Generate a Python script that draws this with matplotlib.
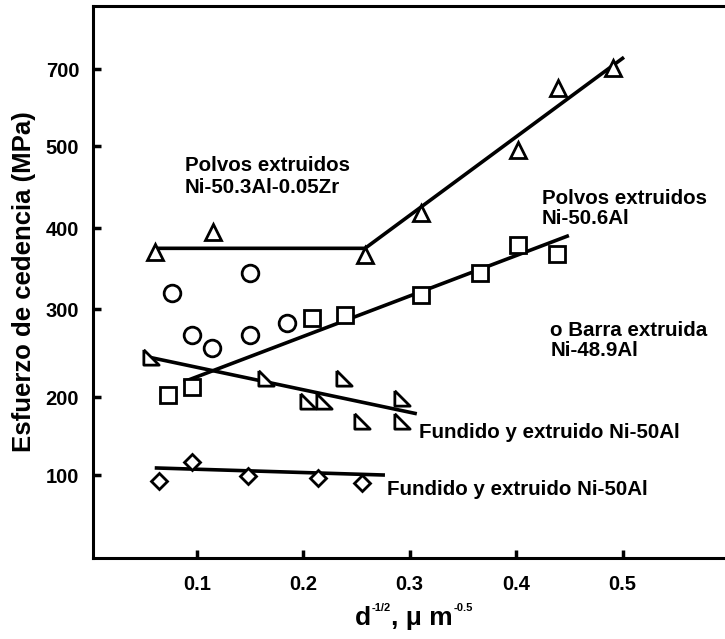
import numpy as np
import matplotlib
matplotlib.use("Agg")
import matplotlib.pyplot as plt

plt.rcParams["font.family"] = ["Liberation Sans", "DejaVu Sans"]
plt.rcParams["font.weight"] = "bold"

# --- datos (x = d^-1/2, y = MPa) ---
zr_x = [0.061, 0.115, 0.258, 0.311, 0.402, 0.439, 0.491]
zr_y = [370, 395, 367, 418, 495, 651, 702]
zr_line_x = [0.061, 0.258, 0.50]
zr_line_y = [375, 375, 728]

sq_x = [0.073, 0.095, 0.208, 0.239, 0.311, 0.366, 0.402, 0.438]
sq_y = [202, 211, 290, 293, 317, 344, 379, 368]
sq_line_x = [0.089, 0.448]
sq_line_y = [218, 390]

circ_x = [0.077, 0.095, 0.114, 0.150, 0.150, 0.185]
circ_y = [320, 270, 256, 344, 270, 284]

cast_x = [0.057, 0.165, 0.204, 0.219, 0.238, 0.255, 0.293, 0.293]
cast_y = [245, 222, 195, 195, 222, 169, 199, 169]
cast_line_x = [0.056, 0.305]
cast_line_y = [245, 179]

dia_x = [0.064, 0.095, 0.148, 0.214, 0.255]
dia_y = [93, 117, 99, 96, 90]
dia_line_x = [0.062, 0.275]
dia_line_y = [109, 100]

xticks = [0.1, 0.2, 0.3, 0.4, 0.5]
xticklabels = ["0.1", "0.2", "0.3", "0.4", "0.5"]
yticks = [100, 200, 300, 400, 500, 700]

# escala del eje y de la figura original (no es lineal entre etiquetas)
scale_mpa = [0, 100, 200, 300, 400, 500, 700, 1000]
scale_pos = [0, 83, 161, 249, 330, 412, 489, 604.5]


def fwd(v):
    return np.interp(v, scale_mpa, scale_pos)


def inv(p):
    return np.interp(p, scale_pos, scale_mpa)


fig = plt.figure(figsize=(7.25, 6.39), dpi=100)
ax = fig.add_axes([0.1283, 0.1268, 0.8689, 0.8638])
ax.set_yscale("function", functions=(fwd, inv))

lw = 2.6
ax.plot(zr_line_x, zr_line_y, color="black", lw=lw, zorder=2)
ax.plot(sq_line_x, sq_line_y, color="black", lw=lw, zorder=2)
ax.plot(cast_line_x, cast_line_y, color="black", lw=lw, zorder=2)
ax.plot(dia_line_x, dia_line_y, color="black", lw=lw, zorder=2)

mk = dict(color="black", mfc="white", mec="black", mew=2.0, ls="none", zorder=3)
ax.plot(zr_x, zr_y, marker="^", ms=11, **mk)
ax.plot(sq_x, sq_y, marker="s", ms=11, **mk)
ax.plot(circ_x, circ_y, marker="o", ms=12, **mk)
right_tri = [(-1, 1), (-1, -1), (1, -1), (-1, 1)]
ax.plot(cast_x, cast_y, marker=right_tri, ms=11, **mk)
ax.plot(dia_x, dia_y, marker="D", ms=8.5, **mk)

fs = 14.8
ax.text(0.0887, 463, "Polvos extruidos\nNi-50.3Al-0.05Zr", fontsize=fs,
        ha="left", va="center", linespacing=1.15)
ax.text(0.424, 424, "Polvos extruidos\nNi-50.6Al", fontsize=fs,
        ha="left", va="center", linespacing=1.1)
ax.text(0.432, 264, "o Barra extruida\nNi-48.9Al", fontsize=fs,
        ha="left", va="center", linespacing=1.1)
ax.text(0.309, 154, "Fundido y extruido Ni-50Al", fontsize=fs,
        ha="left", va="center")
ax.text(0.279, 82, "Fundido y extruido Ni-50Al", fontsize=fs,
        ha="left", va="center")

ax.set_xlim(0.0023, 0.5944)
ax.set_ylim(0, 864)
ax.set_xticks(xticks)
ax.set_xticklabels(xticklabels)
ax.set_yticks(yticks)
ax.set_yticklabels([str(v) for v in yticks])
ax.minorticks_off()
ax.tick_params(axis="both", direction="in", labelsize=14.5, width=2.5, length=6, pad=10)
ax.tick_params(axis="x", pad=12)

ax.spines["right"].set_visible(False)
for s in ["left", "bottom", "top"]:
    ax.spines[s].set_linewidth(2.2)

ax.set_ylabel("Esfuerzo de cedencia (MPa)", fontsize=18.5, fontweight="bold", labelpad=7)

# etiqueta del eje x con superindices muy pequenos, como en el original
t1 = fig.text(355 / 725, 0.022, "d", fontsize=19, ha="left", va="baseline")
t2 = plt.annotate("-1/2", xy=(1.0, 0.72), xycoords=t1, xytext=(0.5, 0),
                  textcoords="offset points", fontsize=8, ha="left", va="bottom",
                  annotation_clip=False)
t3 = plt.annotate(", \u03bc m", xy=(1.0, 0.0), xycoords=(t2, t1), fontsize=19,
                  ha="left", va="bottom", annotation_clip=False)
plt.annotate("-0.5", xy=(1.0, 0.72), xycoords=t3, xytext=(0.5, 0),
             textcoords="offset points", fontsize=8, ha="left", va="bottom",
             annotation_clip=False)

fig.savefig("out.png", dpi=100)
